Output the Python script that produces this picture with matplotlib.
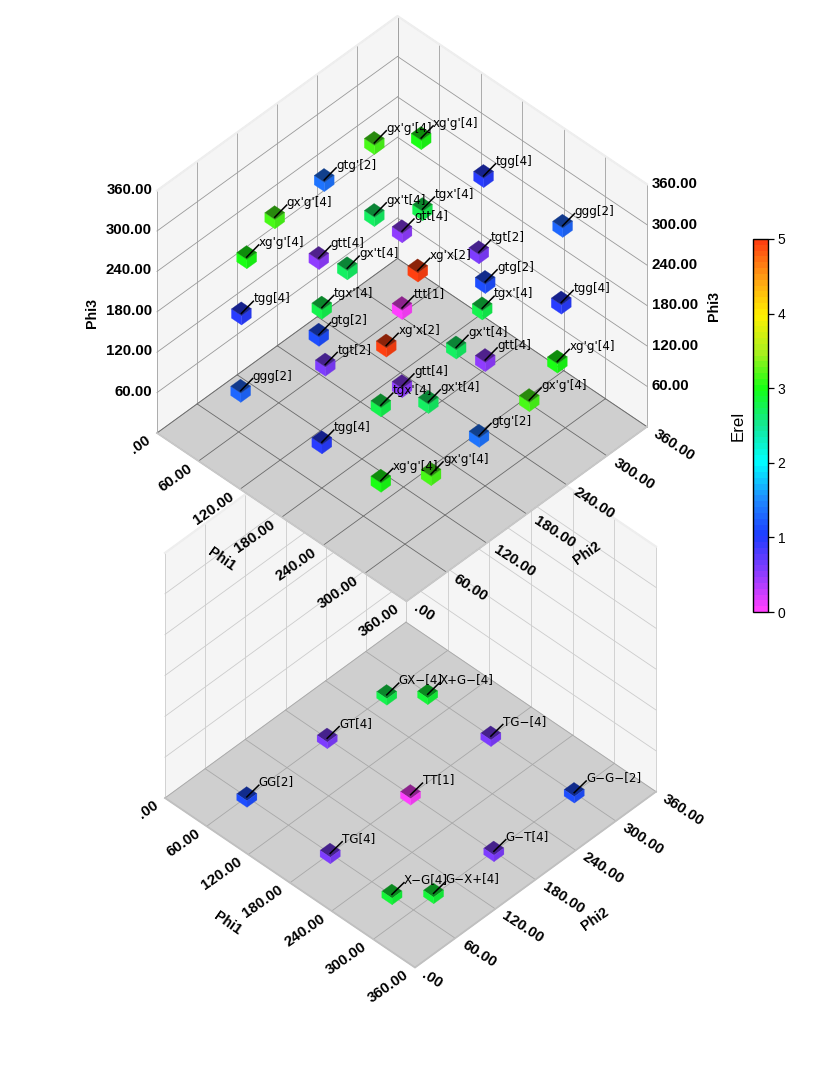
import numpy as np
import matplotlib
matplotlib.use("Agg")
import matplotlib.pyplot as plt
from matplotlib.colors import LinearSegmentedColormap, Normalize
from matplotlib.cm import ScalarMappable
from mpl_toolkits.mplot3d import proj3d
from mpl_toolkits.mplot3d.art3d import Poly3DCollection

# ---- data -------------------------------------------------------------
top_labels = ["ggg[2]", "ggg[2]", "tgg[4]", "tgg[4]", "tgg[4]", "tgg[4]",
              "gtg'[2]", "gtg'[2]", "gtg[2]", "gtg[2]", "tgt[2]", "tgt[2]", "ttt[1]",
              "gtt[4]", "gtt[4]", "gtt[4]", "gtt[4]",
              "gx't[4]", "gx't[4]", "gx't[4]", "gx't[4]",
              "tgx'[4]", "tgx'[4]", "tgx'[4]", "tgx'[4]",
              "gx'g'[4]", "gx'g'[4]", "gx'g'[4]", "gx'g'[4]",
              "xg'g'[4]", "xg'g'[4]", "xg'g'[4]", "xg'g'[4]",
              "xg'x[2]", "xg'x[2]"]
top_phi1 = [60, 298, 180, 182, 62, 297,
            295, 60, 300, 60, 183, 180, 180,
            60, 300, 180, 180,
            60, 300, 180, 180,
            90, 270, 180, 180,
            60, 300, 60, 300,
            90, 270, 60, 300,
            90, 270]
top_phi2 = [63, 298, 60, 300, 62, 297,
            176, 188, 180, 180, 62, 295, 180,
            180, 180, 180, 180,
            263, 95, 98, 261,
            304, 55, 60, 300,
            263, 99, 114, 246,
            302, 55, 72, 288,
            297, 63]
top_phi3 = [59, 300, 68, 292, 176, 186,
            74, 282, 303, 58, 184, 181, 181,
            172, 187, 295, 65,
            176, 186, 299, 64,
            176, 189, 268, 94,
            283, 76, 280, 80,
            283, 77, 251, 107,
            90, 272]
top_erel = [1.3, 1.3, 0.95, 0.95, 0.95, 0.95,
            1.35, 1.35, 1.15, 1.15, 0.55, 0.55, 0.0,
            0.5, 0.5, 0.5, 0.5,
            2.7, 2.7, 2.7, 2.7,
            2.8, 2.8, 2.8, 2.8,
            3.2, 3.2, 3.2, 3.2,
            3.0, 3.0, 3.0, 3.0,
            4.95, 4.95]

bot_labels = ["GG[2]", "TT[1]", "G\u2212G\u2212[2]", "GT[4]", "TG[4]", "TG\u2212[4]", "G\u2212T[4]",
              "GX\u2212[4]", "X+G\u2212[4]", "X\u2212G[4]", "G\u2212X+[4]"]
bot_phi1 = [60, 180, 300, 60, 180, 180, 300, 60, 90, 268, 298]
bot_phi2 = [60, 180, 300, 180, 60, 300, 180, 269, 299, 61, 92]
bot_phi3 = [0, 0, 0, 0, 0, 0, 0, 0, 0, 0, 0]
bot_erel = [1.1, 0.0, 1.1, 0.55, 0.55, 0.55, 0.55, 2.8, 2.85, 2.85, 2.85]

axis_ticks = [0, 60, 120, 180, 240, 300, 360]
tick_text = [".00", "60.00", "120.00", "180.00", "240.00", "300.00", "360.00"]
cbar_ticks = [0, 1, 2, 3, 4, 5]

cmap_colors = ["#ff40ff", "#8a3cff", "#1e3cff", "#1e8cff", "#00ffff",
               "#14e696", "#14ff14", "#aaf01e", "#fff000", "#ffa014", "#ff4010"]

# ---- figure -----------------------------------------------------------
W, H = 817, 1086
fig = plt.figure(figsize=(W / 100, H / 100), dpi=100, facecolor="white")
cmap = LinearSegmentedColormap.from_list("erel", cmap_colors, N=64)
norm = Normalize(0, 5)
LAB = dict(family="DejaVu Sans", fontsize=8.6, color="black")
TCK = dict(family="Liberation Sans", fontsize=10.8, fontweight="bold", color="black")


def corner_px(ax, x, y, z):
    a, b, _ = proj3d.proj_transform(x, y, z, ax.get_proj())
    return ax.transData.transform((a, b))


def text3(ax, x, y, z, s, **kw):
    """Text anchored at a 3D data point, kept as a plain upright-frame text."""
    a, b, _ = proj3d.proj_transform(x, y, z, ax.get_proj())
    return ax.text2D(a, b, s, transform=ax.transData, **kw)


def place(ax, L, R):
    """Fit the square 3D axes so the floor's left/right corners hit pixels L and R."""
    side = 1000.0
    def setpos(px, py, s):
        ax.set_position([px / W, (H - py - s) / H, s / W, s / H])
        ax.apply_aspect()
    setpos(0, 0, side)
    p = corner_px(ax, 0, 0, 0)
    q = corner_px(ax, 360, 360, 0)
    side = side * (R[0] - L[0]) / (q[0] - p[0])
    setpos(0, 0, side)
    p = corner_px(ax, 0, 0, 0)
    setpos(L[0] - p[0], (H - L[1]) * -1 + p[1], side)


def panel(elev, azim, zbox, L, R, wall_grid, wall_v, floor_grid, edge, cube_s, cube_z, dz, tz,
          xs, ys, zs, es, labels, zorder):
    ax = fig.add_axes([0, 0, 0.9, 0.9], projection="3d", computed_zorder=False)
    ax.set_zorder(zorder)
    ax.patch.set_alpha(0)
    ax.set_proj_type("ortho")
    ax.view_init(elev=elev, azim=azim)
    ax.set_box_aspect((1, 1, zbox), zoom=0.7)
    ax.set_xlim(0, 360)
    ax.set_ylim(0, 360)
    ax.set_zlim(0, 360)
    ax.set_axis_off()
    place(ax, L, R)

    M = 360
    walls = [[(0, 0, 0), (0, M, 0), (0, M, M), (0, 0, M)],
             [(0, M, 0), (M, M, 0), (M, M, M), (0, M, M)]]
    ax.add_collection3d(Poly3DCollection(walls, facecolors="#f5f5f5", edgecolors="none", zorder=1))
    ax.add_collection3d(Poly3DCollection([[(0, 0, 0), (M, 0, 0), (M, M, 0), (0, M, 0)]],
                                         facecolors="#cfcfcf", edgecolors="none", zorder=1.1))
    for t in axis_ticks:
        ax.plot([0, 0], [0, M], [t, t], color=wall_grid, lw=0.6, zorder=2)
        ax.plot([0, M], [M, M], [t, t], color=wall_grid, lw=0.6, zorder=2)
        ax.plot([0, 0], [t, t], [0, M], color=wall_v, lw=0.6, zorder=2)
        ax.plot([t, t], [M, M], [0, M], color=wall_v, lw=0.6, zorder=2)
        ax.plot([t, t], [0, M], [0, 0], color=floor_grid, lw=0.6, zorder=3)
        ax.plot([0, M], [t, t], [0, 0], color=floor_grid, lw=0.6, zorder=3)
    # light rims on the walls and the front of the floor
    ax.plot([0, 0, M], [0, M, M], [M, M, M], color="#eeeeee", lw=1.6, zorder=2.5)
    ax.plot([0, M, M], [0, 0, M], [0, 0, 0], color=edge, lw=1.3, zorder=3.1)

    # tick labels
    for t, s in zip(axis_ticks, tick_text):
        text3(ax, t, -12, 0, s, ha="right", va="center", rotation=35, rotation_mode="anchor", zorder=200, **TCK)
        text3(ax, 372, t, 0, s, ha="left", va="center", rotation=-33, rotation_mode="anchor", zorder=200, **TCK)

    # cubes, far ones first
    el, az = np.radians(elev), np.radians(azim)
    depth = [np.cos(el) * (x * np.cos(az) + y * np.sin(az)) + np.sin(el) * z for x, y, z in zip(xs, ys, zs)]
    for n, i in enumerate(np.argsort(depth)):
        x, y, z = xs[i], ys[i], zs[i]
        c = np.array(cmap(norm(es[i])))[:3]
        s, h = cube_s / 2, cube_z / 2
        top = [(x - s, y - s, z + h), (x + s, y - s, z + h), (x + s, y + s, z + h), (x - s, y + s, z + h)]
        lft = [(x - s, y - s, z - h), (x + s, y - s, z - h), (x + s, y - s, z + h), (x - s, y - s, z + h)]
        rgt = [(x + s, y - s, z - h), (x + s, y + s, z - h), (x + s, y + s, z + h), (x + s, y - s, z + h)]
        fc = [tuple(c * 0.55), tuple(c), tuple(c * 0.92)]
        ax.add_collection3d(Poly3DCollection([top, lft, rgt], facecolors=fc, edgecolors=fc, linewidths=0.2,
                                             zorder=10 + 0.01 * n))
        ax.plot([x, x + 8.8], [y, y + 8.8], [z, z + dz], color="black", lw=1.1, zorder=100)
        text3(ax, x + 8.8, y + 8.8, z + dz + tz, labels[i], ha="left", va="center", zorder=101, **LAB)
    return ax


ax_bot = panel(44.7, -46.05, 0.993, (165, 798), (656, 793), "#cccccc", "#cccccc", "#a8a8a8", "#c0c0c0",
               14.8, 9.5, 17, 5, bot_phi1, bot_phi2, bot_phi3, bot_erel, bot_labels, 1)
ax_top = panel(44.4, -46.05, 0.979, (157, 433), (647, 427), "#999999", "#a0a0a0", "#6a6a6a", "#c8c8c8",
               14.6, 13.8, 17.9, 3.5, top_phi1, top_phi2, top_phi3, top_erel, top_labels, 2)

# Phi3 tick labels on both side edges of the upper box
for t, s in zip(axis_ticks[1:], tick_text[1:]):
    text3(ax_top, -3.6, -3.6, t + 1.5, s, ha="right", va="center", zorder=200, **TCK)
    text3(ax_top, 363.6, 363.6, t, s, ha="left", va="center", zorder=200, **TCK)

# axis names
NAME = dict(family="Liberation Sans", fontsize=10.2, fontweight="bold", ha="center", va="center",
            rotation_mode="anchor", zorder=50)
for px, py, rot, s in [(92, 313, 90, "Phi3"), (714, 306, 90, "Phi3"),
                       (222, 559, -35, "Phi1"), (587, 553, 35, "Phi2"),
                       (228, 923, -35, "Phi1"), (595, 919, 35, "Phi2")]:
    fig.text(px / W, 1 - py / H, s, rotation=rot, **NAME)

# colour bar
cax = fig.add_axes([753 / W, 1 - 612 / H, 15 / W, 373 / H])
cax.set_zorder(3)
cb = fig.colorbar(ScalarMappable(norm=norm, cmap=cmap), cax=cax, ticks=cbar_ticks)
cb.outline.set_linewidth(1.0)
cb.ax.tick_params(length=4, width=0.9, labelsize=10, pad=3)
for t in cb.ax.get_yticklabels():
    t.set_family("Liberation Sans")
cb.ax.yaxis.set_label_position("left")
cb.set_label("Erel", family="Liberation Sans", fontsize=12.2, labelpad=5)

fig.savefig("out.png", dpi=100, facecolor="white")
